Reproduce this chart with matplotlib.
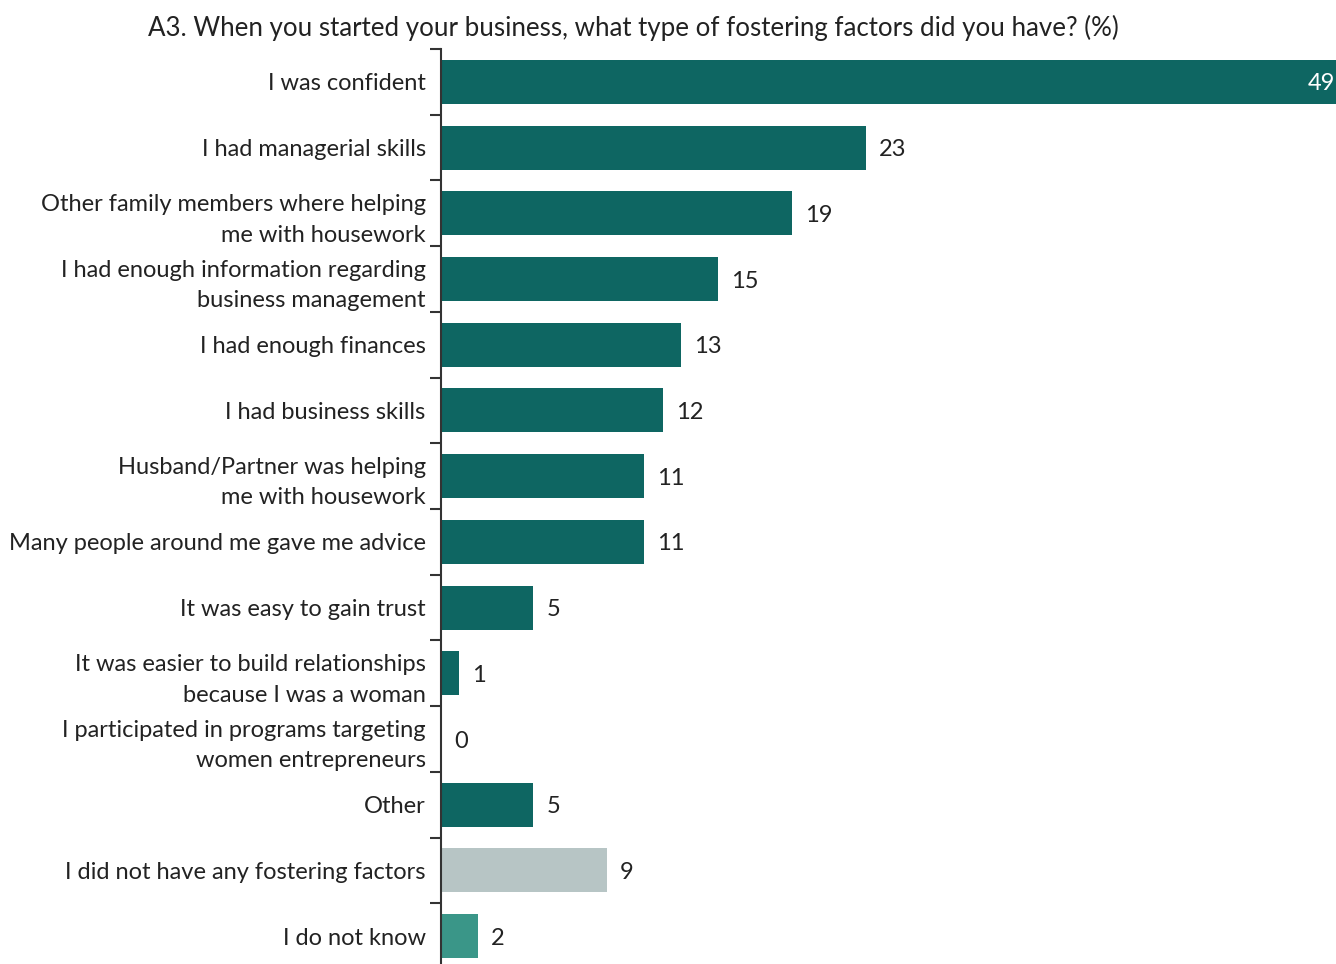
import matplotlib.pyplot as plt
import numpy as np

categorias = ['I was confident', 'I had managerial skills',
              'Other family members where helping\nme with housework',
              'I had enough information regarding\nbusiness management',
              'I had enough finances', 'I had business skills',
              'Husband/Partner was helping\nme with housework',
              'Many people around me gave me advice',
              'It was easy to gain trust',
              'It was easier to build relationships\nbecause I was a woman',
              'I participated in programs targeting\nwomen entrepreneurs',
              'Other', 'I did not have any fostering factors', 'I do not know']
valores = [49, 23, 19, 15, 13, 12, 11, 11, 5, 1, 0, 5, 9, 2]
cores = ['#0e6662'] * 12 + ['#b7c5c5', '#3a9688']

plt.rcParams['font.family'] = ['Lato', 'DejaVu Sans']

fig = plt.figure(figsize=(13.36, 9.64), dpi=100)
ax = fig.add_axes([441 / 1336, -5 / 964, 1 - 441 / 1336, 1 - 49 / 964 + 5 / 964])

y = np.arange(len(categorias))
ax.barh(y, valores, height=0.67, color=cores)
ax.set_ylim(len(categorias) - 0.5, -0.5)
ax.set_xlim(0, 48.46)

# rótulos no centro de cada barra, marcas de divisão entre categorias
ax.set_yticks(y)
ax.set_yticklabels(categorias, fontsize=17, color='#222222', linespacing=1.55)
ax.set_yticks(np.arange(len(categorias) + 1) - 0.5, minor=True)
ax.tick_params(axis='y', which='major', length=0, pad=11)
ax.tick_params(axis='y', which='minor', length=8, width=1.5, color='#333333')
ax.set_xticks([])

for lado in ['top', 'right', 'bottom']:
    ax.spines[lado].set_visible(False)
ax.spines['left'].set_linewidth(1.5)
ax.spines['left'].set_color('#333333')

for pos, v in enumerate(valores):
    if v == max(valores):
        ax.text(48.4, pos, str(v), va='center_baseline', ha='right', fontsize=17, color='white')
    else:
        ax.text(v + 0.7, pos, str(v), va='center_baseline', ha='left', fontsize=17, color='#222222')

fig.text(633 / 1336, 1 - 28 / 964,
         'A3. When you started your business, what type of fostering factors did you have? (%)',
         ha='center', va='center', fontsize=18.6, color='#222222')

fig.savefig('out.png', dpi=100)
